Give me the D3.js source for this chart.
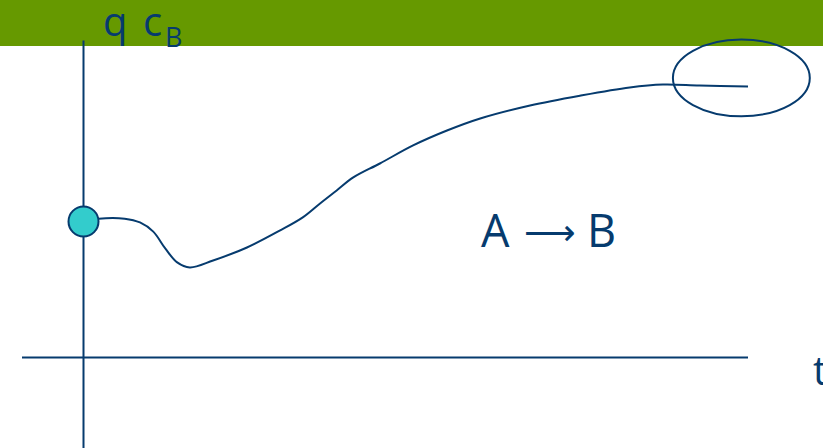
<!DOCTYPE html>
<html>
<head>
<meta charset="utf-8">
<script src="https://cdn.jsdelivr.net/npm/d3@7"></script>
<style>
  html, body { margin: 0; padding: 0; background: #fff; }
  svg { display: block; }
</style>
</head>
<body>
<svg id="chart" width="823" height="448"></svg>
<script>
// ---- data ----
const timeValues = [0, 0.23, 0.62, 0.85, 1.05, 1.23, 1.41, 1.60, 1.95, 2.46, 2.96, 3.30, 3.56, 3.81, 4.06, 4.46, 4.96, 5.47, 5.97, 6.72, 7.47, 8.22, 8.72, 9.27, 10];
const concValues = [4.29, 4.38, 4.38, 4.26, 3.97, 3.44, 3.00, 2.84, 3.06, 3.47, 4.01, 4.42, 4.86, 5.27, 5.68, 6.12, 6.69, 7.16, 7.54, 7.95, 8.26, 8.52, 8.61, 8.58, 8.55];
const startPoint = [0, 4.29];
const steadyEllipse = [9.9, 8.82, 1.03, 1.21]; // centre t, centre c, half-width t, half-height c
const axisLabels = { q: "q", c: "c", sub: "B", x: "t" };
const reactionParts = ["A", "\u27F6", "B"];

const W = 823, H = 448;
const navy = "#063b6e";
const svg = d3.select("#chart");

const x = d3.scaleLinear().domain([0, 10]).range([83.5, 748]);
const y = d3.scaleLinear().domain([0, 10]).range([357.5, 40.5]);

// green header band
svg.append("rect").attr("x", 0).attr("y", 0).attr("width", W).attr("height", 46).attr("fill", "#669900");

// axes
svg.append("line").attr("x1", x(0)).attr("x2", x(0)).attr("y1", y(10)).attr("y2", H)
  .attr("stroke", navy).attr("stroke-width", 2);
svg.append("line").attr("x1", 22).attr("x2", x(10)).attr("y1", y(0)).attr("y2", y(0))
  .attr("stroke", navy).attr("stroke-width", 2);

// curve
const pts = timeValues.map((t, i) => [t, concValues[i]]);
const line = d3.line().x(d => x(d[0])).y(d => y(d[1])).curve(d3.curveCatmullRom.alpha(0.5));
svg.append("path").attr("d", line(pts)).attr("fill", "none")
  .attr("stroke", navy).attr("stroke-width", 2);

// ellipse around steady state
svg.append("ellipse")
  .attr("cx", x(steadyEllipse[0])).attr("cy", y(steadyEllipse[1]))
  .attr("rx", x(steadyEllipse[0] + steadyEllipse[2]) - x(steadyEllipse[0]))
  .attr("ry", y(steadyEllipse[1] - steadyEllipse[3]) - y(steadyEllipse[1]))
  .attr("fill", "none").attr("stroke", navy).attr("stroke-width", 2);

// start point
svg.append("circle").attr("cx", x(startPoint[0])).attr("cy", y(startPoint[1])).attr("r", 15)
  .attr("fill", "#33cccc").attr("stroke", navy).attr("stroke-width", 2);

// labels
const font = "'Open Sans', sans-serif";
const yl = svg.append("text").attr("y", 36)
  .attr("font-family", font).attr("font-size", 40).attr("fill", navy);
yl.append("tspan").attr("x", 103).text(axisLabels.q);
yl.append("tspan").attr("x", 143).text(" " .trim() + axisLabels.c);
yl.append("tspan").attr("x", 165).attr("y", 47).attr("font-size", 27).text(axisLabels.sub);

svg.append("text").attr("x", 813).attr("y", 385)
  .attr("font-family", font).attr("font-size", 40).attr("fill", navy).text(axisLabels.x);

const rl = svg.append("text").attr("y", 247)
  .attr("font-family", font).attr("font-size", 45).attr("fill", navy);
rl.append("tspan").attr("x", 481).text(reactionParts[0]);
rl.append("tspan").attr("x", 524).attr("font-family", "'DejaVu Sans', sans-serif").attr("font-size", 36).attr("dy", -2).text(reactionParts[1]);
rl.append("tspan").attr("x", 587).attr("dy", 2).text(reactionParts[2]);
</script>
</body>
</html>
